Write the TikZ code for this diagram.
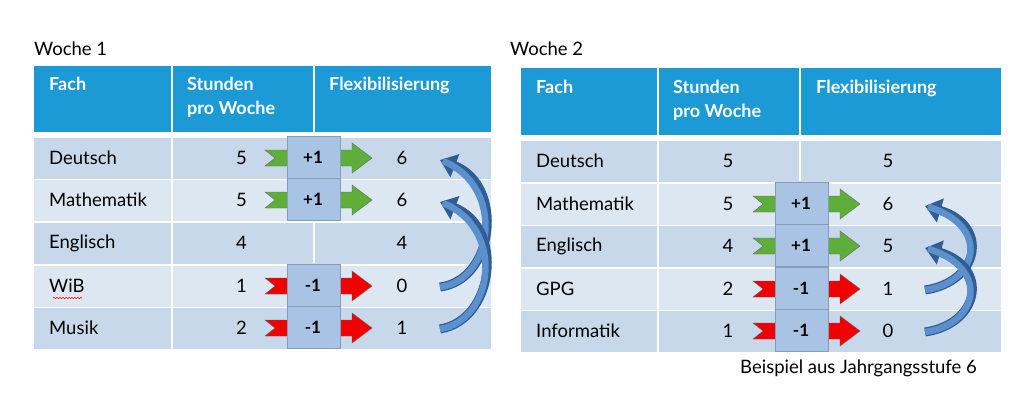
\documentclass[tikz,border=0pt]{standalone}
\usepackage{fontspec}
\setmainfont{Lato}
\usetikzlibrary{arrows.meta,decorations.pathmorphing}
\definecolor{hd}{HTML}{1C9AD6}
\definecolor{rd}{HTML}{C6D8EA}
\definecolor{rl}{HTML}{DDE7F2}
\definecolor{bx}{HTML}{A8C3E3}
\definecolor{gr}{HTML}{5FAE3A}
\definecolor{rr}{HTML}{F00000}
\definecolor{cb}{HTML}{5B90CC}
\definecolor{cbd}{HTML}{2F5E94}
\begin{document}
\begin{tikzpicture}[x=1pt,y=-1pt,
 txt/.style={font=\fontsize{18.5}{18.5}\selectfont,inner sep=0},
 hdr/.style={font=\bfseries\fontsize{18}{24}\selectfont,text=white,inner sep=0,align=left,anchor=north west},
 box/.style={fill=bx,draw=bx!80!black,line width=0.4},
 curv/.style={draw=cbd,line width=9,-{Triangle[length=16,width=24]}},
 curvi/.style={draw=cb,line width=6.5,shorten >=3}]
\useasboundingbox (0,0) rectangle (1024,401);
\newcommand\blk[4]{% x0 y color label
 \fill[#3,draw=black!60,line width=0.4] (#1,#2-8)--(#1+87,#2-8)--(#1+87,#2-15)--(#1+107,#2)--(#1+87,#2+15)--(#1+87,#2+8)--(#1,#2+8)--(#1+10,#2)--cycle;
 \draw[box] (#1+22,#2-22) rectangle (#1+75,#2+20);
 \node[txt,font=\bfseries\fontsize{17}{17}\selectfont] at (#1+48,#2-1) {#4};}
% ===== Left table
\node[txt,anchor=west] (w1) at (34,49) {Woche 1};
\fill[hd] (34,66) rectangle (491,132);
\draw[white,line width=2] (172,66)--(172,132) (314,66)--(314,132);
\node[hdr] (lh1) at (49,77) {Fach};
\node[hdr] (lh2) at (187,77) {Stunden\\pro Woche};
\node[hdr] (lh3) at (329,77) {Flexibilisierung};
\foreach \i/\y/\c/\f/\s/\v in {1/158/rd/Deutsch/5/6,2/200/rl/Mathematik/5/6,3/243/rd/Englisch/4/4,4/286/rl/WiB/1/0,5/328/rd/Musik/2/1}{
 \fill[\c] (34,\y-20) rectangle (491,\y+21);
 \draw[white,line width=1.5] (172,\y-20)--(172,\y+21);
 \node[txt,anchor=west] (lf\i) at (49,\y) {\f};
 \node[txt,anchor=east] (ls\i) at (247,\y) {\s};
 \node[txt] (lv\i) at (402,\y) {\v};}
\draw[white,line width=1.5] (314,223)--(314,263);
\draw[red,line width=0.6,decorate,decoration={snake,amplitude=0.6,segment length=3}] (53,298)--(82,298);
\blk{265}{158}{gr}{+1}\blk{265}{200}{gr}{+1}
\blk{265}{286}{rr}{-1}\blk{265}{328}{rr}{-1}
\coordinate (la1) at (440,287); \coordinate (lb1) at (440,160);
\coordinate (la2) at (440,329); \coordinate (lb2) at (440,202);
\draw[curv] (la1) .. controls (495,280) and (505,185) .. (lb1);
\draw[curvi] (la1) .. controls (495,280) and (505,185) .. (lb1);
\draw[curv] (la2) .. controls (495,320) and (505,227) .. (lb2);
\draw[curvi] (la2) .. controls (495,320) and (505,227) .. (lb2);
% ===== Right table
\node[txt,anchor=west] (w2) at (510,49) {Woche 2};
\fill[hd] (521,68) rectangle (1001,135);
\draw[white,line width=2] (658,68)--(658,135) (800,68)--(800,135);
\node[hdr] (rh1) at (536,80) {Fach};
\node[hdr] (rh2) at (673,80) {Stunden\\pro Woche};
\node[hdr] (rh3) at (816,80) {Flexibilisierung};
\foreach \i/\y/\c/\f/\s/\v in {1/161/rd/Deutsch/5/5,2/204/rl/Mathematik/5/6,3/246/rd/Englisch/4/5,4/289/rl/GPG/2/1,5/331/rd/Informatik/1/0}{
 \fill[\c] (521,\y-20) rectangle (1001,\y+21);
 \draw[white,line width=1.5] (658,\y-20)--(658,\y+21);
 \node[txt,anchor=west] (rf\i) at (536,\y) {\f};
 \node[txt] (rs\i) at (728,\y) {\s};
 \node[txt] (rv\i) at (888,\y) {\v};}
\draw[white,line width=1.5] (800,141)--(800,181);
\blk{753}{204}{gr}{+1}\blk{753}{246}{gr}{+1}
\blk{753}{289}{rr}{-1}\blk{753}{331}{rr}{-1}
\coordinate (ra1) at (925,290); \coordinate (rb1) at (925,206);
\coordinate (ra2) at (925,332); \coordinate (rb2) at (925,248);
\draw[curv] (ra1) .. controls (980,282) and (990,225) .. (rb1);
\draw[curvi] (ra1) .. controls (980,282) and (990,225) .. (rb1);
\draw[curv] (ra2) .. controls (980,324) and (990,267) .. (rb2);
\draw[curvi] (ra2) .. controls (980,324) and (990,267) .. (rb2);
\node[txt,anchor=east] (src) at (977,368) {Beispiel aus Jahrgangsstufe 6};
\end{tikzpicture}
\end{document}
